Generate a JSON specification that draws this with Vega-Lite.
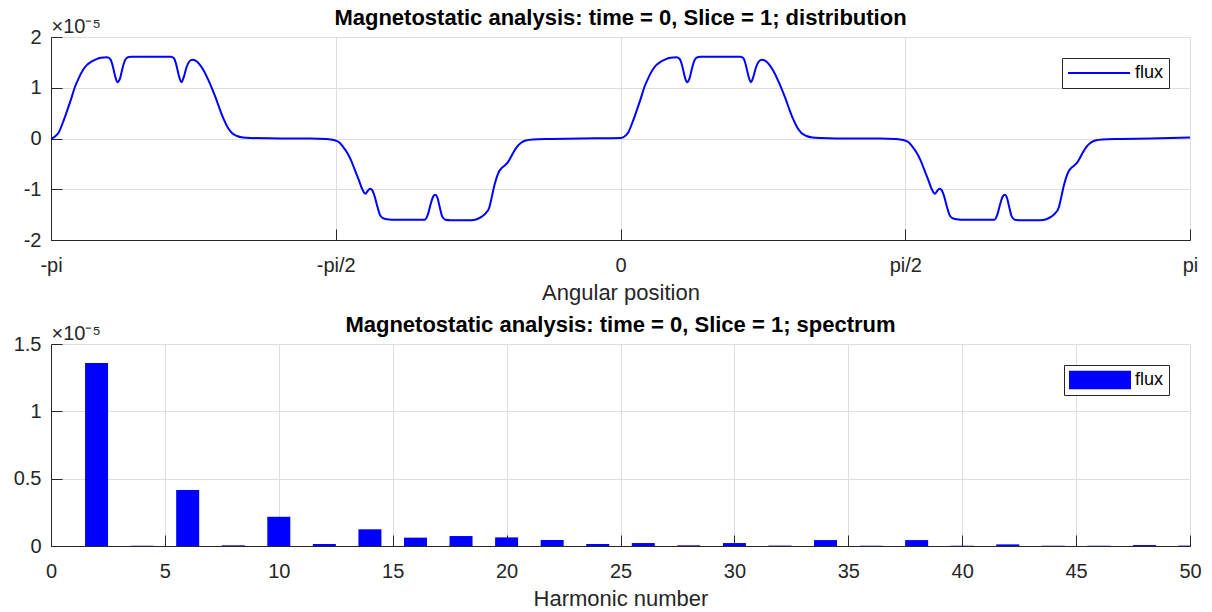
{
  "$schema": "https://vega.github.io/schema/vega-lite/v6.json",
  "background": "white",
  "padding": {"left": 13, "top": 7, "right": 8, "bottom": 4},
  "bounds": "flush",
  "spacing": 104,
  "resolve": {"scale": {"color": "independent"}},
  "config": {
    "font": "Liberation Sans",
    "view": {"stroke": null},
    "axis": {
      "domainColor": "#262626", "tickColor": "#262626", "labelColor": "#262626", "titleColor": "#262626",
      "gridColor": "#dedede", "grid": true, "labelFont": "Liberation Sans", "titleFont": "Liberation Sans",
      "labelFontSize": 20, "titleFontSize": 22, "titleFontWeight": "normal", "tickSize": -11,
      "domainWidth": 1, "tickWidth": 1, "gridWidth": 1, "labelFlush": false, "labelOverlap": false, "labelBound": false
    },
    "axisX": {"labelPadding": 26, "titlePadding": 7},
    "axisY": {"labelPadding": 21},
    "title": {"fontSize": 22, "font": "Liberation Sans", "fontWeight": "bold", "color": "#000000", "offset": -14, "baseline": "alphabetic", "frame": "group"},
    "legend": {"orient": "top-right", "offset": 21, "padding": 5, "strokeColor": "#262626", "fillColor": "white",
      "labelFontSize": 18, "labelFont": "Liberation Sans", "labelColor": "#000000", "symbolSize": 3844, "labelOffset": 4, "cornerRadius": 0, "clipHeight": 20}
  },
  "vconcat": [
    {
      "title": "Magnetostatic analysis: time = 0, Slice = 1; distribution",
      "width": 1139,
      "height": 203,
      "data": {"values": [
        {"angle": -3.14159, "flux": 0.0}, {"angle": -3.11953, "flux": 0.04e-5}, {"angle": -3.09748, "flux": 0.13e-5},
        {"angle": -3.07542, "flux": 0.32e-5}, {"angle": -3.05337, "flux": 0.54e-5}, {"angle": -3.03131, "flux": 0.77e-5},
        {"angle": -3.00926, "flux": 1.02e-5}, {"angle": -2.98720, "flux": 1.20e-5}, {"angle": -2.96515, "flux": 1.35e-5},
        {"angle": -2.94309, "flux": 1.45e-5}, {"angle": -2.92103, "flux": 1.51e-5}, {"angle": -2.89346, "flux": 1.56e-5},
        {"angle": -2.86589, "flux": 1.59e-5}, {"angle": -2.83281, "flux": 1.60e-5}, {"angle": -2.81627, "flux": 1.57e-5},
        {"angle": -2.80248, "flux": 1.45e-5}, {"angle": -2.78870, "flux": 1.24e-5}, {"angle": -2.77491, "flux": 1.11e-5},
        {"angle": -2.76113, "flux": 1.18e-5}, {"angle": -2.74734, "flux": 1.38e-5}, {"angle": -2.73356, "flux": 1.54e-5},
        {"angle": -2.71702, "flux": 1.60e-5}, {"angle": -2.70048, "flux": 1.61e-5}, {"angle": -2.47992, "flux": 1.61e-5},
        {"angle": -2.46338, "flux": 1.58e-5}, {"angle": -2.44960, "flux": 1.44e-5}, {"angle": -2.43581, "flux": 1.23e-5},
        {"angle": -2.42203, "flux": 1.11e-5}, {"angle": -2.40824, "flux": 1.22e-5}, {"angle": -2.39446, "flux": 1.40e-5},
        {"angle": -2.37791, "flux": 1.52e-5}, {"angle": -2.36137, "flux": 1.55e-5}, {"angle": -2.34207, "flux": 1.53e-5},
        {"angle": -2.32002, "flux": 1.45e-5}, {"angle": -2.29796, "flux": 1.33e-5}, {"angle": -2.27591, "flux": 1.17e-5},
        {"angle": -2.25385, "flux": 0.99e-5}, {"angle": -2.23180, "flux": 0.79e-5}, {"angle": -2.20974, "flux": 0.57e-5},
        {"angle": -2.18768, "flux": 0.37e-5}, {"angle": -2.16563, "flux": 0.21e-5}, {"angle": -2.14357, "flux": 0.11e-5},
        {"angle": -2.11600, "flux": 0.05e-5}, {"angle": -2.08292, "flux": 0.02e-5}, {"angle": -2.03881, "flux": 0.01e-5},
        {"angle": -1.87339, "flux": 0.0}, {"angle": -1.70798, "flux": 0.0}, {"angle": -1.62527, "flux": -0.01e-5},
        {"angle": -1.58116, "flux": -0.03e-5}, {"angle": -1.55359, "flux": -0.07e-5}, {"angle": -1.53153, "flux": -0.16e-5},
        {"angle": -1.50948, "flux": -0.27e-5}, {"angle": -1.48742, "flux": -0.42e-5}, {"angle": -1.46537, "flux": -0.62e-5},
        {"angle": -1.44331, "flux": -0.82e-5}, {"angle": -1.42677, "flux": -0.98e-5}, {"angle": -1.41574, "flux": -1.06e-5},
        {"angle": -1.40747, "flux": -1.09e-5}, {"angle": -1.39369, "flux": -1.03e-5}, {"angle": -1.38266, "flux": -0.99e-5},
        {"angle": -1.37163, "flux": -1.01e-5}, {"angle": -1.35785, "flux": -1.12e-5}, {"angle": -1.34130, "flux": -1.34e-5},
        {"angle": -1.32752, "flux": -1.50e-5}, {"angle": -1.31098, "flux": -1.57e-5}, {"angle": -1.28892, "flux": -1.59e-5},
        {"angle": -1.23930, "flux": -1.60e-5}, {"angle": -1.07939, "flux": -1.60e-5}, {"angle": -1.06285, "flux": -1.50e-5},
        {"angle": -1.04631, "flux": -1.28e-5}, {"angle": -1.03252, "flux": -1.14e-5}, {"angle": -1.02150, "flux": -1.11e-5},
        {"angle": -1.01047, "flux": -1.16e-5}, {"angle": -0.99668, "flux": -1.36e-5}, {"angle": -0.98290, "flux": -1.54e-5},
        {"angle": -0.96636, "flux": -1.60e-5}, {"angle": -0.93603, "flux": -1.61e-5}, {"angle": -0.82575, "flux": -1.61e-5},
        {"angle": -0.79267, "flux": -1.59e-5}, {"angle": -0.76510, "flux": -1.54e-5}, {"angle": -0.74304, "flux": -1.47e-5},
        {"angle": -0.72374, "flux": -1.36e-5}, {"angle": -0.70996, "flux": -1.15e-5}, {"angle": -0.69618, "flux": -0.93e-5},
        {"angle": -0.68239, "flux": -0.76e-5}, {"angle": -0.66861, "flux": -0.64e-5}, {"angle": -0.65482, "flux": -0.58e-5},
        {"angle": -0.63828, "flux": -0.53e-5}, {"angle": -0.62174, "flux": -0.47e-5}, {"angle": -0.60520, "flux": -0.37e-5},
        {"angle": -0.58866, "flux": -0.26e-5}, {"angle": -0.57211, "flux": -0.17e-5}, {"angle": -0.55006, "flux": -0.09e-5},
        {"angle": -0.52249, "flux": -0.04e-5}, {"angle": -0.48389, "flux": -0.02e-5}, {"angle": -0.38464, "flux": -0.01e-5},
        {"angle": -0.21923, "flux": 0.0},
        {"angle": 0.0, "flux": 0.01e-5}, {"angle": 0.02206, "flux": 0.04e-5}, {"angle": 0.04411, "flux": 0.13e-5},
        {"angle": 0.06617, "flux": 0.32e-5}, {"angle": 0.08822, "flux": 0.54e-5}, {"angle": 0.11028, "flux": 0.77e-5},
        {"angle": 0.13233, "flux": 1.02e-5}, {"angle": 0.15439, "flux": 1.20e-5}, {"angle": 0.17644, "flux": 1.35e-5},
        {"angle": 0.19850, "flux": 1.45e-5}, {"angle": 0.22056, "flux": 1.51e-5}, {"angle": 0.24813, "flux": 1.56e-5},
        {"angle": 0.27570, "flux": 1.59e-5}, {"angle": 0.30878, "flux": 1.60e-5}, {"angle": 0.32532, "flux": 1.57e-5},
        {"angle": 0.33911, "flux": 1.45e-5}, {"angle": 0.35289, "flux": 1.24e-5}, {"angle": 0.36668, "flux": 1.11e-5},
        {"angle": 0.38046, "flux": 1.18e-5}, {"angle": 0.39425, "flux": 1.38e-5}, {"angle": 0.40803, "flux": 1.54e-5},
        {"angle": 0.42457, "flux": 1.60e-5}, {"angle": 0.44111, "flux": 1.61e-5}, {"angle": 0.66167, "flux": 1.61e-5},
        {"angle": 0.67821, "flux": 1.58e-5}, {"angle": 0.69199, "flux": 1.44e-5}, {"angle": 0.70578, "flux": 1.23e-5},
        {"angle": 0.71956, "flux": 1.11e-5}, {"angle": 0.73335, "flux": 1.22e-5}, {"angle": 0.74713, "flux": 1.40e-5},
        {"angle": 0.76368, "flux": 1.52e-5}, {"angle": 0.78022, "flux": 1.55e-5}, {"angle": 0.79952, "flux": 1.53e-5},
        {"angle": 0.82157, "flux": 1.45e-5}, {"angle": 0.84363, "flux": 1.33e-5}, {"angle": 0.86568, "flux": 1.17e-5},
        {"angle": 0.88774, "flux": 0.99e-5}, {"angle": 0.90979, "flux": 0.79e-5}, {"angle": 0.93185, "flux": 0.57e-5},
        {"angle": 0.95391, "flux": 0.37e-5}, {"angle": 0.97596, "flux": 0.21e-5}, {"angle": 0.99802, "flux": 0.11e-5},
        {"angle": 1.02559, "flux": 0.05e-5}, {"angle": 1.05867, "flux": 0.02e-5}, {"angle": 1.10278, "flux": 0.01e-5},
        {"angle": 1.26820, "flux": 0.0}, {"angle": 1.43361, "flux": 0.0}, {"angle": 1.51632, "flux": -0.01e-5},
        {"angle": 1.56043, "flux": -0.03e-5}, {"angle": 1.58800, "flux": -0.07e-5}, {"angle": 1.61006, "flux": -0.16e-5},
        {"angle": 1.63211, "flux": -0.27e-5}, {"angle": 1.65417, "flux": -0.42e-5}, {"angle": 1.67622, "flux": -0.62e-5},
        {"angle": 1.69828, "flux": -0.82e-5}, {"angle": 1.71482, "flux": -0.98e-5}, {"angle": 1.72585, "flux": -1.06e-5},
        {"angle": 1.73412, "flux": -1.09e-5}, {"angle": 1.74790, "flux": -1.03e-5}, {"angle": 1.75893, "flux": -0.99e-5},
        {"angle": 1.76996, "flux": -1.01e-5}, {"angle": 1.78374, "flux": -1.12e-5}, {"angle": 1.80029, "flux": -1.34e-5},
        {"angle": 1.81407, "flux": -1.50e-5}, {"angle": 1.83061, "flux": -1.57e-5}, {"angle": 1.85267, "flux": -1.59e-5},
        {"angle": 1.90229, "flux": -1.60e-5}, {"angle": 2.06220, "flux": -1.60e-5}, {"angle": 2.07874, "flux": -1.50e-5},
        {"angle": 2.09528, "flux": -1.28e-5}, {"angle": 2.10907, "flux": -1.14e-5}, {"angle": 2.12009, "flux": -1.11e-5},
        {"angle": 2.13112, "flux": -1.16e-5}, {"angle": 2.14491, "flux": -1.36e-5}, {"angle": 2.15869, "flux": -1.54e-5},
        {"angle": 2.17523, "flux": -1.60e-5}, {"angle": 2.20556, "flux": -1.61e-5}, {"angle": 2.31584, "flux": -1.61e-5},
        {"angle": 2.34892, "flux": -1.59e-5}, {"angle": 2.37649, "flux": -1.54e-5}, {"angle": 2.39855, "flux": -1.47e-5},
        {"angle": 2.41785, "flux": -1.36e-5}, {"angle": 2.43163, "flux": -1.15e-5}, {"angle": 2.44541, "flux": -0.93e-5},
        {"angle": 2.45920, "flux": -0.76e-5}, {"angle": 2.47298, "flux": -0.64e-5}, {"angle": 2.48677, "flux": -0.58e-5},
        {"angle": 2.50331, "flux": -0.53e-5}, {"angle": 2.51985, "flux": -0.47e-5}, {"angle": 2.53639, "flux": -0.37e-5},
        {"angle": 2.55293, "flux": -0.26e-5}, {"angle": 2.56948, "flux": -0.17e-5}, {"angle": 2.59153, "flux": -0.09e-5},
        {"angle": 2.61910, "flux": -0.04e-5}, {"angle": 2.65770, "flux": -0.02e-5}, {"angle": 2.75695, "flux": -0.01e-5},
        {"angle": 2.92236, "flux": 0.0}, {"angle": 3.14159, "flux": 0.02e-5}
      ]},
      "mark": {"type": "line", "strokeWidth": 2, "interpolate": "monotone", "clip": true},
      "encoding": {
        "x": {"field": "angle", "type": "quantitative",
          "scale": {"domain": [-3.14159265, 3.14159265], "nice": false, "zero": false, "padding": 0},
          "axis": {"title": "Angular position", "values": [-3.14159265, -1.57079633, 0, 1.57079633, 3.14159265],
            "labelExpr": "datum.value < -3 ? '-pi' : datum.value < -1 ? '-pi/2' : datum.value < 1 ? '0' : datum.value < 3 ? 'pi/2' : 'pi'"}},
        "y": {"field": "flux", "type": "quantitative",
          "scale": {"domain": [-2e-5, 2e-5], "nice": false},
          "axis": {"values": [-2e-5, -1e-5, 0, 1e-5, 2e-5], "labelExpr": "'' + round(datum.value*1e6)/10",
            "title": "×10⁻⁵", "titleAngle": 0, "titleX": 0, "titleY": -5, "titleAlign": "left", "titleBaseline": "alphabetic", "titleFontSize": 20}},
        "color": {"datum": "flux", "type": "nominal", "scale": {"range": ["#0000ff"]},
          "legend": {"title": null, "symbolType": "stroke", "symbolStrokeWidth": 2}}
      }
    },
    {
      "title": "Magnetostatic analysis: time = 0, Slice = 1; spectrum",
      "width": 1139,
      "height": 202,
      "data": {"values": [
        {"harmonic": 2, "flux": 1.359e-5}, {"harmonic": 4, "flux": 0.002e-5}, {"harmonic": 6, "flux": 0.415e-5},
        {"harmonic": 8, "flux": 0.005e-5}, {"harmonic": 10, "flux": 0.217e-5}, {"harmonic": 12, "flux": 0.015e-5},
        {"harmonic": 14, "flux": 0.124e-5}, {"harmonic": 16, "flux": 0.062e-5}, {"harmonic": 18, "flux": 0.074e-5},
        {"harmonic": 20, "flux": 0.064e-5}, {"harmonic": 22, "flux": 0.044e-5}, {"harmonic": 24, "flux": 0.015e-5},
        {"harmonic": 26, "flux": 0.022e-5}, {"harmonic": 28, "flux": 0.005e-5}, {"harmonic": 30, "flux": 0.022e-5},
        {"harmonic": 32, "flux": 0.003e-5}, {"harmonic": 34, "flux": 0.044e-5}, {"harmonic": 36, "flux": 0.002e-5},
        {"harmonic": 38, "flux": 0.044e-5}, {"harmonic": 40, "flux": 0.002e-5}, {"harmonic": 42, "flux": 0.012e-5},
        {"harmonic": 44, "flux": 0.002e-5}, {"harmonic": 46, "flux": 0.002e-5}, {"harmonic": 48, "flux": 0.007e-5},
        {"harmonic": 50, "flux": 0.003e-5}
      ]},
      "mark": {"type": "bar", "size": 23, "clip": true},
      "encoding": {
        "x": {"field": "harmonic", "type": "quantitative",
          "scale": {"domain": [0, 50], "nice": false, "padding": 0},
          "axis": {"title": "Harmonic number", "values": [0, 5, 10, 15, 20, 25, 30, 35, 40, 45, 50]}},
        "y": {"field": "flux", "type": "quantitative",
          "scale": {"domain": [0, 1.5e-5], "nice": false, "padding": 0},
          "axis": {"values": [0, 0.5e-5, 1e-5, 1.5e-5], "labelExpr": "'' + round(datum.value*1e6)/10",
            "title": "×10⁻⁵", "titleAngle": 0, "titleX": 0, "titleY": -5, "titleAlign": "left", "titleBaseline": "alphabetic", "titleFontSize": 20}},
        "color": {"datum": "flux", "type": "nominal", "scale": {"range": ["#0000ff"]},
          "legend": {"title": null, "symbolType": "M-1,-0.3H1V0.3H-1Z", "symbolStrokeWidth": 0}}
      }
    }
  ]
}
